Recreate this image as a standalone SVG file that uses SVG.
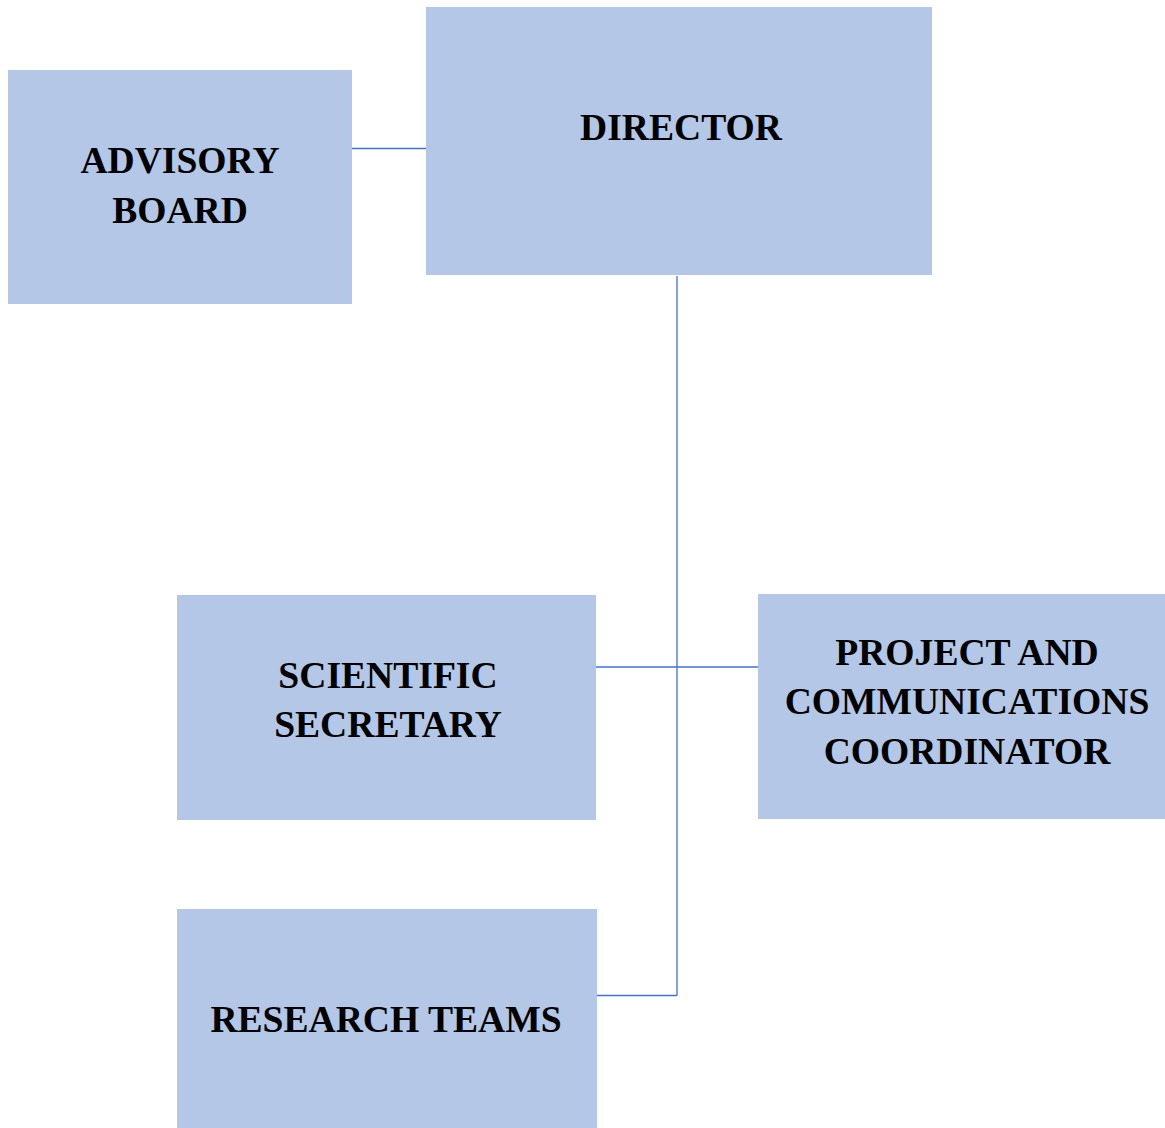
<svg xmlns="http://www.w3.org/2000/svg" width="1165" height="1128" viewBox="0 0 1165 1128">
<style>
.box{fill:#B4C7E7;}
.t{font-family:"Liberation Serif","Times New Roman",serif;font-weight:bold;font-size:37.6px;fill:#000;text-anchor:middle;}
.c{stroke:#4472C4;stroke-width:1.3;fill:none;}
</style>
<rect width="1165" height="1128" fill="#fff"/>
<g id="connectors">
<line class="c" x1="352" y1="148.5" x2="426" y2="148.5"/>
<line class="c" x1="677" y1="276" x2="677" y2="995.5"/>
<line class="c" x1="596" y1="667" x2="758" y2="667"/>
<line class="c" x1="597" y1="995.5" x2="677" y2="995.5"/>
</g>
<g id="advisory-board">
<rect class="box" x="8" y="70" width="344" height="234"/>
<text class="t" x="180" y="173">ADVISORY</text>
<text class="t" x="180" y="223">BOARD</text>
</g>
<g id="director">
<rect class="box" x="426" y="7" width="506" height="268"/>
<text class="t" x="681" y="140">DIRECTOR</text>
</g>
<g id="scientific-secretary">
<rect class="box" x="177" y="595" width="419" height="225"/>
<text class="t" x="388" y="688">SCIENTIFIC</text>
<text class="t" x="388" y="737">SECRETARY</text>
</g>
<g id="project-coordinator">
<rect class="box" x="758" y="594" width="407" height="225"/>
<text class="t" x="967" y="665">PROJECT AND</text>
<text class="t" x="967" y="714">COMMUNICATIONS</text>
<text class="t" x="967" y="764">COORDINATOR</text>
</g>
<g id="research-teams">
<rect class="box" x="177" y="909" width="420" height="219"/>
<text class="t" x="386" y="1032">RESEARCH TEAMS</text>
</g>
</svg>
